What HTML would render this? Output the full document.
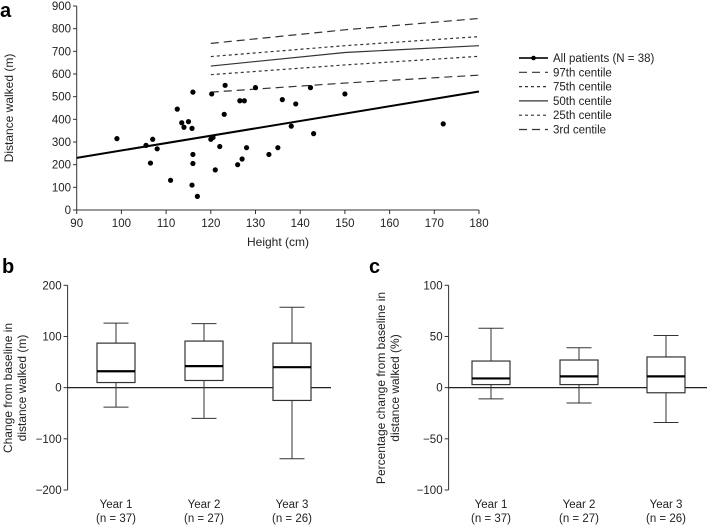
<!DOCTYPE html>
<html><head><meta charset="utf-8"><style>
body{margin:0;background:#fff;}
svg{display:block;font-family:"Liberation Sans",sans-serif;}
</style></head><body>
<svg id="s" width="707" height="525" viewBox="0 0 707 525"></svg>
<script>
const heights=[99,105.5,106.5,107,108,111,112.5,113.5,114,115,115.8,115.8,116,116,116,117,120.2,120,120.5,121,122,123,123.2,126,126.5,127,127.5,128,130,133,135,136,138,139,142.3,143,150,172];
const distances=[315,285,207,312,270,131,445,385,365,390,360,110,520,245,205,60,512,312,320,177,280,422,550,200,482,225,482,275,540,245,275,487,370,468,540,337,512,380];
const regX=[90,180];
const regY=[230,523];
const centileX=[120,150,180];
const c97=[735,795,845];
const c75=[677,725,765];
const c50=[635,695,725];
const c25=[597,640,678];
const c3=[520,560,595];
const xTicksA=[90,100,110,120,130,140,150,160,170,180];
const yTicksA=[0,100,200,300,400,500,600,700,800,900];
const boxCats=["Year 1","Year 2","Year 3"];
const boxNs=["(n = 37)","(n = 27)","(n = 26)"];
const bWhiskHi=[126,125,157],bQ3=[87,91,87],bMed=[32,42,40],bQ1=[10,14,-25],bWhiskLo=[-38,-60,-139];
const cWhiskHi=[58,39,51],cQ3=[26,27,30],cMed=[9,11,11],cQ1=[3,3,-5],cWhiskLo=[-11,-15,-34];
const yTicksB=[-200,-100,0,100,200];
const yTicksC=[-100,-50,0,50,100];

const svg=document.getElementById('s');
const NS='http://www.w3.org/2000/svg';
function el(t,a,txt){const e=document.createElementNS(NS,t);for(const k in a)e.setAttribute(k,a[k]);if(txt!==undefined)e.textContent=txt;svg.appendChild(e);return e;}

// Panel a
const ax=v=>76.7+(v-90)/90*(479-76.7);
const ay=v=>210-v/900*204;
let e;
e=el('text',{x:0,y:17,'font-size':20,'font-weight':'bold'},'a');


e=el('line',{x1:76.7,y1:ay(900),x2:76.7,y2:210,stroke:'#333','stroke-width':1});


e=el('line',{x1:76.7,y1:210,x2:479,y2:210,stroke:'#333','stroke-width':1});


yTicksA.forEach(v=>{
 el('line',{x1:73,x2:76.7,y1:ay(v),y2:ay(v),stroke:'#333'});
 e=el('text',{x:71,y:ay(v)+4,'font-size':11.5,'text-anchor':'end',fill:'#222'},v);
 
 
});
xTicksA.forEach(v=>{
 el('line',{x1:ax(v),x2:ax(v),y1:210,y2:214,stroke:'#333'});
 e=el('text',{x:ax(v),y:227,'font-size':11.5,'text-anchor':'middle',fill:'#222'},v);
 
 
});
e=el('text',{x:278,y:246,'font-size':12,'text-anchor':'middle',fill:'#222'},'Height (cm)');


e=el('text',{x:0,y:0,'font-size':12,'text-anchor':'middle',fill:'#222',transform:'translate(13,108) rotate(-90)'},'Distance walked (m)');


function cline(arr,dash,name){
 const p=centileX.map((x,i)=>ax(x)+','+ay(arr[i])).join(' ');
 e=el('polyline',{points:p,fill:'none',stroke:'#333','stroke-width':1.2,'stroke-dasharray':dash});
 
 
}
cline(c97,'8,5','centile-97');
cline(c75,'3,3','centile-75');
cline(c50,'none','centile-50');
cline(c25,'3,3','centile-25');
cline(c3,'8,5','centile-3');
e=el('line',{x1:ax(regX[0]),y1:ay(regY[0]),x2:ax(regX[1]),y2:ay(regY[1]),stroke:'#000','stroke-width':2});


heights.forEach((h,i)=>{
 e=el('circle',{cx:ax(h),cy:ay(distances[i]),r:2.6,fill:'#000'});
 
 
});
// legend
const legItems=[['All patients (N = 38)','none',2],['97th centile','8,5',1.2],['75th centile','3,3',1.2],['50th centile','none',1.2],['25th centile','3,3',1.2],['3rd centile','8,5',1.2]];
legItems.forEach((it,i)=>{
 const y=58+i*14.3;
 e=el('line',{x1:519,x2:548,y1:y,y2:y,stroke:'#333','stroke-width':it[2],'stroke-dasharray':it[1]});
 
 
 if(i===0){el('circle',{cx:533.5,cy:y,r:2.3,fill:'#000'});}
 e=el('text',{x:553,y:y+4,'font-size':11.5,fill:'#222'},it[0]);
 
 
});

// box panels
function boxPanel(px,ticks,ymin,ymax,centers,hi,q3,med,q1,lo,xEnd,label,lx,titleLines,tx,pname){
 const y=v=>490-(v-ymin)/(ymax-ymin)*204.7;
 e=el('text',{x:lx,y:273,'font-size':20,'font-weight':'bold'},label);
 
 
 e=el('line',{x1:px,x2:px,y1:y(ymax),y2:490,stroke:'#333'});
 
 
 ticks.forEach(v=>{
  el('line',{x1:px-4,x2:px,y1:y(v),y2:y(v),stroke:'#333'});
  e=el('text',{x:px-6,y:y(v)+4,'font-size':11.5,'text-anchor':'end',fill:'#222'},v<0?'\u2212'+(-v):v);
  
  
 });
 e=el('line',{x1:px,x2:xEnd,y1:y(0),y2:y(0),stroke:'#222','stroke-width':1.2});
 
 
 centers.forEach((c,i)=>{
  el('line',{x1:c,x2:c,y1:y(hi[i]),y2:y(q3[i]),stroke:'#333'});
  el('line',{x1:c,x2:c,y1:y(q1[i]),y2:y(lo[i]),stroke:'#333'});
  el('line',{x1:c-12.5,x2:c+12.5,y1:y(hi[i]),y2:y(hi[i]),stroke:'#333'});
  el('line',{x1:c-12.5,x2:c+12.5,y1:y(lo[i]),y2:y(lo[i]),stroke:'#333'});
  e=el('rect',{x:c-19,y:y(q3[i]),width:38,height:y(q1[i])-y(q3[i]),fill:'#fff',stroke:'#333','stroke-width':1.2});
  
  
  e=el('line',{x1:c-19,x2:c+19,y1:y(med[i]),y2:y(med[i]),stroke:'#000','stroke-width':2.2});
  
  
  e=el('text',{x:c,y:508,'font-size':11.5,'text-anchor':'middle',fill:'#222'},boxCats[i]);
  
  
  e=el('text',{x:c,y:522,'font-size':11.5,'text-anchor':'middle',fill:'#222'},boxNs[i]);
  
  
 });
 titleLines.forEach((t,i)=>{
  e=el('text',{x:0,y:0,'font-size':12,'text-anchor':'middle',fill:'#222',transform:'translate('+(tx+i*14)+',388) rotate(-90)'},t);
  
  
 });
}
boxPanel(67.6,yTicksB,-200,200,[116,204,292],bWhiskHi,bQ3,bMed,bQ1,bWhiskLo,331,'b',2,['Change from baseline in','distance walked (m)'],12,'b');
boxPanel(448.6,yTicksC,-100,100,[491,579,666],cWhiskHi,cQ3,cMed,cQ1,cWhiskLo,707,'c',369,['Percentage change from baseline in','distance walked (%)'],385,'c');
</script>
</body></html>
